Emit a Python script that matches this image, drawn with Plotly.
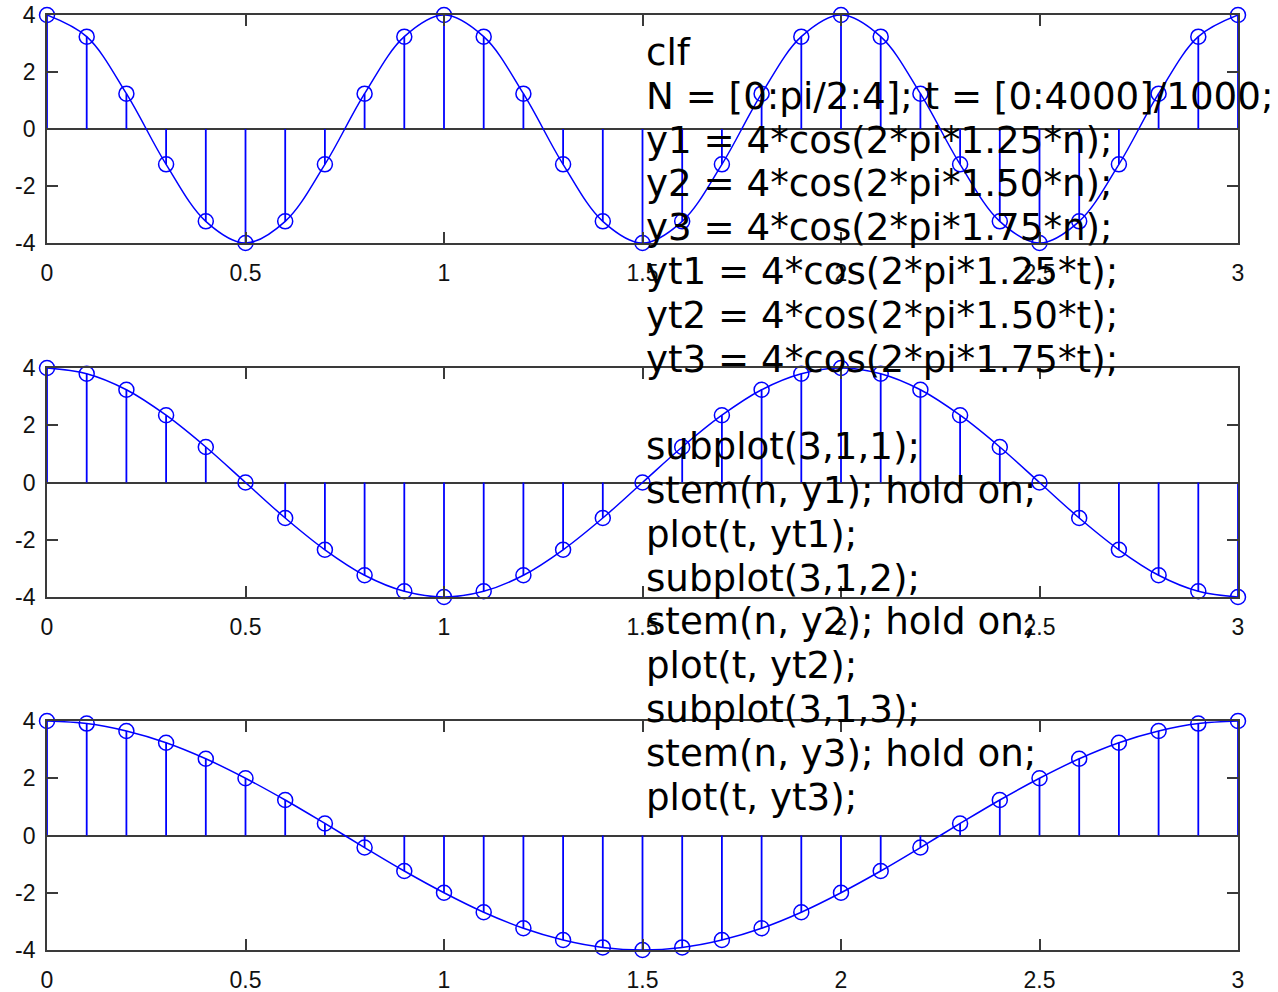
import plotly.graph_objects as go

# ---- data ----
n = [round(i * 0.1, 1) for i in range(31)]

y1 = [4.00, 3.24, 1.24, -1.24, -3.24, -4.00, -3.24, -1.24, 1.24, 3.24,
      4.00, 3.24, 1.24, -1.24, -3.24, -4.00, -3.24, -1.24, 1.24, 3.24,
      4.00, 3.24, 1.24, -1.24, -3.24, -4.00, -3.24, -1.24, 1.24, 3.24, 4.00]

y2 = [4.00, 3.80, 3.24, 2.35, 1.24, 0.00, -1.24, -2.35, -3.24, -3.80,
      -4.00, -3.80, -3.24, -2.35, -1.24, 0.00, 1.24, 2.35, 3.24, 3.80,
      4.00, 3.80, 3.24, 2.35, 1.24, 0.00, -1.24, -2.35, -3.24, -3.80, -4.00]

y3 = [4.00, 3.91, 3.65, 3.24, 2.68, 2.00, 1.24, 0.42, -0.42, -1.24,
      -2.00, -2.68, -3.24, -3.65, -3.91, -4.00, -3.91, -3.65, -3.24, -2.68,
      -2.00, -1.24, -0.42, 0.42, 1.24, 2.00, 2.68, 3.24, 3.65, 3.91, 4.00]

x_tickvals = [0, 0.5, 1, 1.5, 2, 2.5, 3]
x_ticktext = ["0", "0.5", "1", "1.5", "2", "2.5", "3"]
y_tickvals = [-4, -2, 0, 2, 4]
y_ticktext = ["-4", "-2", "0", "2", "4"]

code_lines = [
    "clf",
    "N = [0:pi/2:4]; t = [0:4000]/1000;",
    "y1 = 4*cos(2*pi*1.25*n);",
    "y2 = 4*cos(2*pi*1.50*n);",
    "y3 = 4*cos(2*pi*1.75*n);",
    "yt1 = 4*cos(2*pi*1.25*t);",
    "yt2 = 4*cos(2*pi*1.50*t);",
    "yt3 = 4*cos(2*pi*1.75*t);",
    "",
    "subplot(3,1,1);",
    "stem(n, y1); hold on;",
    "plot(t, yt1);",
    "subplot(3,1,2);",
    "stem(n, y2); hold on;",
    "plot(t, yt2);",
    "subplot(3,1,3);",
    "stem(n, y3); hold on;",
    "plot(t, yt3);",
]

# ---- layout geometry ----
W, H = 1278, 992
BLUE = "rgb(0,0,255)"
AX = "#3a3a3a"

xdom = [47 / W, 1238 / W]
ydoms = [
    [1 - 243 / H, 1 - 15 / H],
    [1 - 597 / H, 1 - 368 / H],
    [1 - 950 / H, 1 - 721 / H],
]

fig = go.Figure()
series = [y1, y2, y3]
for k, ys in enumerate(series):
    xa = "x" if k == 0 else f"x{k+1}"
    ya = "y" if k == 0 else f"y{k+1}"
    # stems
    sx, sy = [], []
    for xv, yv in zip(n, ys):
        sx += [xv, xv, None]
        sy += [0, yv, None]
    fig.add_trace(go.Scatter(x=sx, y=sy, mode="lines", xaxis=xa, yaxis=ya,
                             line=dict(color=BLUE, width=1.8),
                             showlegend=False, hoverinfo="skip", cliponaxis=False))
    # continuous curve
    fig.add_trace(go.Scatter(x=n, y=ys, mode="lines", xaxis=xa, yaxis=ya,
                             line=dict(color=BLUE, width=1.5, shape="spline", smoothing=1.0),
                             showlegend=False, hoverinfo="skip", cliponaxis=False))
    # markers
    fig.add_trace(go.Scatter(x=n, y=ys, mode="markers", xaxis=xa, yaxis=ya,
                             marker=dict(symbol="circle-open", size=15, color=BLUE,
                                         line=dict(width=1.5, color=BLUE)),
                             showlegend=False, hoverinfo="skip", cliponaxis=False))

axis_common = dict(showline=True, linecolor=AX, linewidth=1.8, mirror="ticks",
                   ticks="inside", ticklen=11, tickwidth=1.5, tickcolor=AX,
                   showgrid=False, automargin=False,
                   tickfont=dict(family="Liberation Sans", size=23, color="#111"))

layout = dict(width=W, height=H, margin=dict(l=0, r=0, t=0, b=0, pad=0),
              plot_bgcolor="white", paper_bgcolor="white", showlegend=False)
for k in range(3):
    xk = "xaxis" if k == 0 else f"xaxis{k+1}"
    yk = "yaxis" if k == 0 else f"yaxis{k+1}"
    ya = "y" if k == 0 else f"y{k+1}"
    xa = "x" if k == 0 else f"x{k+1}"
    layout[xk] = dict(domain=xdom, anchor=ya, range=[0, 3], tickvals=x_tickvals,
                      ticktext=x_ticktext, zeroline=False, ticklabelstandoff=8, **axis_common)
    layout[yk] = dict(domain=ydoms[k], anchor=xa, range=[-4, 4], tickvals=y_tickvals,
                      ticktext=y_ticktext, zeroline=True, zerolinecolor=AX, zerolinewidth=1.8,
                      ticklabelstandoff=5, **axis_common)
fig.update_layout(**layout)

# code text overlay
base0 = 52
step = 43.8
for i, line in enumerate(code_lines):
    if not line:
        continue
    cy = base0 + i * step
    fig.add_annotation(text=line, xref="paper", yref="paper", x=644 / W, y=1 - cy / H,
                       xanchor="left", yanchor="middle", showarrow=False,
                       font=dict(family="DejaVu Sans", size=37.2, color="black"))

fig.write_html("out.html")
